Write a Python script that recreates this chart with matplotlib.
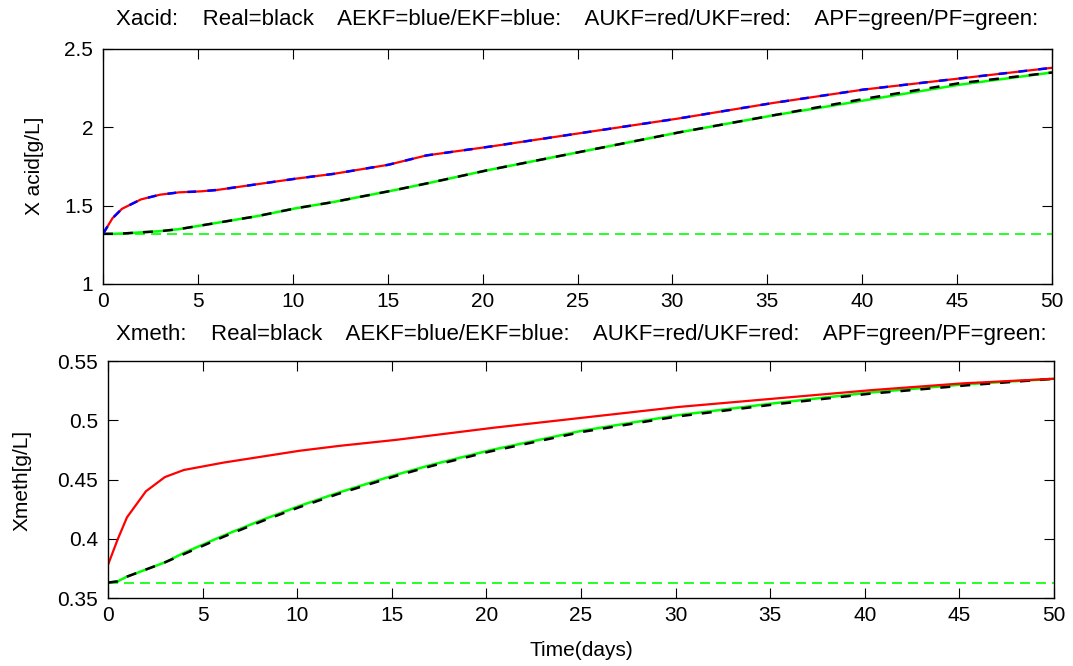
import numpy as np
import matplotlib
matplotlib.use("Agg")
import matplotlib.pyplot as plt

plt.rcParams['font.family'] = ['Liberation Sans', 'DejaVu Sans']

t = [0, 0.5, 1, 2, 3, 4, 5, 6, 8, 10, 12, 15, 17, 20, 25, 30, 35, 40, 45, 50]

# Xacid [g/L]
xacid_real = [1.32, 1.32, 1.322, 1.33, 1.337, 1.35, 1.37, 1.39, 1.43, 1.48, 1.52, 1.59, 1.64, 1.72,
              1.84, 1.96, 2.07, 2.18, 2.28, 2.35]
xacid_aukf = [1.32, 1.42, 1.48, 1.54, 1.57, 1.585, 1.59, 1.60, 1.635, 1.67, 1.70, 1.76, 1.82, 1.87,
              1.96, 2.05, 2.15, 2.24, 2.31, 2.38]
xacid_apf = [1.32, 1.32, 1.322, 1.33, 1.337, 1.35, 1.37, 1.39, 1.43, 1.48, 1.52, 1.59, 1.64, 1.72,
             1.84, 1.96, 2.07, 2.17, 2.27, 2.35]
xacid_pf = 1.32

# Xmeth [g/L]
xmeth_real = [0.363, 0.364, 0.368, 0.374, 0.380, 0.387, 0.394, 0.401, 0.414, 0.426, 0.437, 0.452,
              0.461, 0.473, 0.490, 0.503, 0.513, 0.522, 0.529, 0.535]
xmeth_aukf = [0.378, 0.399, 0.418, 0.44, 0.452, 0.458, 0.461, 0.464, 0.469, 0.474, 0.478, 0.483,
              0.487, 0.493, 0.502, 0.511, 0.518, 0.525, 0.531, 0.535]
xmeth_apf = [0.363, 0.364, 0.368, 0.374, 0.380, 0.388, 0.395, 0.402, 0.415, 0.427, 0.438, 0.453,
             0.462, 0.474, 0.491, 0.504, 0.514, 0.523, 0.530, 0.535]
xmeth_pf = 0.363

legend_txt = "Real=black    AEKF=blue/EKF=blue:    AUKF=red/UKF=red:    APF=green/PF=green:"

W, H = 1073, 666
fig = plt.figure(figsize=(W / 100, H / 100), dpi=100)
ax1 = fig.add_axes([103 / W, 1 - 284 / H, 949 / W, 235 / H])
ax2 = fig.add_axes([108 / W, 1 - 598 / H, 946 / W, 237 / H])

tt = np.linspace(0, 50, 500)


def smooth(y):
    return np.interp(tt, t, y)


def draw(ax, real, aukf, apf, pf, title, ylim, yticks, ylabels, blue_top, title_pad):
    ax.plot([0, 50], [pf, pf], color='#00ff00', linestyle=(0, (6, 3.6)), lw=1.2)
    ax.plot(tt, smooth(apf), color='#00ff00', lw=1.8)
    ax.plot(tt, smooth(real), color='black', linestyle=(0, (4, 4)), lw=1.8)
    ax.plot(tt, smooth(aukf), color='red', lw=1.6)
    if blue_top:
        ax.plot(tt, smooth(aukf), color='blue', linestyle=(0, (3.5, 4.5)), lw=1.8)
    ax.set_xlim(0, 50)
    ax.set_ylim(*ylim)
    ax.set_xticks(range(0, 51, 5))
    ax.set_yticks(yticks)
    ax.set_yticklabels(ylabels)
    ax.set_title(title, fontsize=16, pad=title_pad)
    ax.tick_params(direction='in', length=7, labelsize=15, top=True, right=True)
    ax.tick_params(axis='x', pad=6)
    ax.tick_params(axis='y', pad=7)
    for s in ax.spines.values():
        s.set_linewidth(1.0)


draw(ax1, xacid_real, xacid_aukf, xacid_apf, xacid_pf, "Xacid:    " + legend_txt,
     (1, 2.5), [1, 1.5, 2, 2.5], ['1', '1.5', '2', '2.5'], True, 17)
draw(ax2, xmeth_real, xmeth_aukf, xmeth_apf, xmeth_pf, "Xmeth:    " + legend_txt,
     (0.35, 0.55), [0.35, 0.4, 0.45, 0.5, 0.55], ['0.35', '0.4', '0.45', '0.5', '0.55'], False, 15)

fig.text(35 / W, 1 - 166 / H, "X acid[g/L]", rotation=90, ha='center', va='center', fontsize=15)
fig.text(22 / W, 1 - 480 / H, "Xmeth[g/L]", rotation=90, ha='center', va='center', fontsize=15)
fig.text(581 / W, 1 - 651 / H, "Time(days)", ha='center', va='center', fontsize=15)

fig.savefig("out.png", dpi=100)
